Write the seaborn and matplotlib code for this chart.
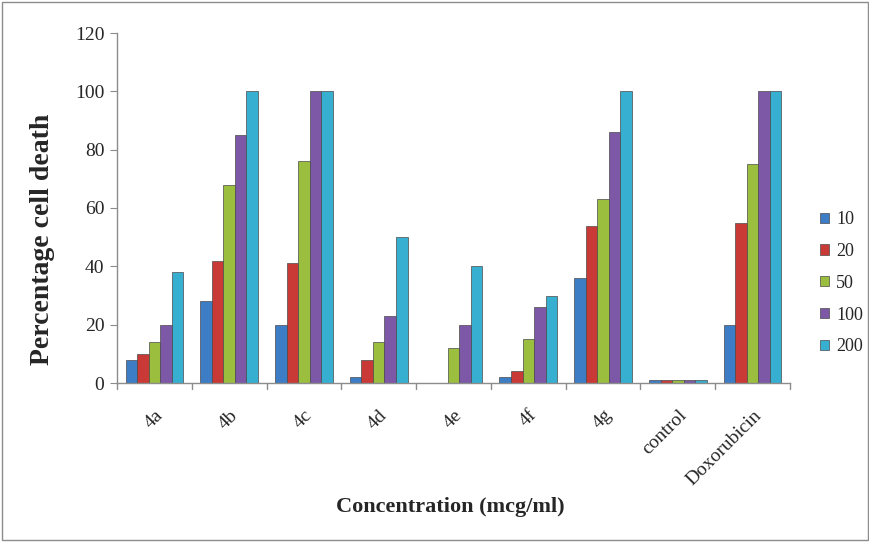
import matplotlib
matplotlib.use("Agg")
import matplotlib.pyplot as plt
import seaborn as sns
import pandas as pd
from matplotlib.patches import Rectangle

compounds = ["4a", "4b", "4c", "4d", "4e", "4f", "4g", "control", "Doxorubicin"]
conc_labels = ["10", "20", "50", "100", "200"]
v10 = [8, 28, 20, 2, 0, 2, 36, 1, 20]
v20 = [10, 42, 41, 8, 0, 4, 54, 1, 55]
v50 = [14, 68, 76, 14, 12, 15, 63, 1, 75]
v100 = [20, 85, 100, 23, 20, 26, 86, 1, 100]
v200 = [38, 100, 100, 50, 40, 30, 100, 1, 100]
yticks = [0, 20, 40, 60, 80, 100, 120]

series = [v10, v20, v50, v100, v200]
rows = []
for lab, vals in zip(conc_labels, series):
    for c, v in zip(compounds, vals):
        rows.append({"compound": c, "conc": lab, "value": v})
df = pd.DataFrame(rows)

colors = ["#3C7DC6", "#C93A37", "#9BBE3F", "#7D58A7", "#36AFD0"]

sns.set_style("white")
plt.rcParams["font.family"] = ["Liberation Serif", "DejaVu Serif"]

fig = plt.figure(figsize=(8.7, 5.42), dpi=100)
ax = fig.add_axes([117/870, 1-383/542, (790-117)/870, (383-33)/542])

sns.barplot(data=df, x="compound", y="value", hue="conc", order=compounds,
            hue_order=conc_labels, palette=colors, width=0.77, ax=ax,
            edgecolor="#4a4a4a", linewidth=0.5, saturation=1)

ax.set_ylim(0, 120)
ax.set_yticks(yticks)
ax.set_yticklabels([str(t) for t in yticks], fontsize=14)
ax.set_xlim(-0.5, len(compounds)-0.5)
ax.set_xticks(range(len(compounds)))
ax.set_xticklabels(compounds, rotation=45, ha="right", rotation_mode="anchor", fontsize=14)
ax.tick_params(axis="x", length=0, pad=17)
ax.tick_params(axis="y", length=5, color="#8c8c8c", left=True, pad=4)
# boundary ticks on x axis
for b in [i - 0.5 for i in range(len(compounds)+1)]:
    ax.plot([b, b], [0, -2.0], color="#8c8c8c", lw=1, clip_on=False)

for s in ["top", "right"]:
    ax.spines[s].set_visible(False)
for s in ["left", "bottom"]:
    ax.spines[s].set_color("#8c8c8c")
    ax.spines[s].set_linewidth(1)

ax.set_xlabel("Concentration (mcg/ml)", fontsize=16, fontweight="bold")
ax.xaxis.set_label_coords(0.495, -0.325)
ax.set_ylabel("Percentage cell death", fontsize=20, fontweight="bold")
ax.yaxis.set_label_coords(-0.092, 0.41)

handles, labels = ax.get_legend_handles_labels()
ax.legend(handles, labels, loc="center left", bbox_to_anchor=(1.02, 0.285),
          frameon=False, fontsize=13, handlelength=0.5, handleheight=0.5,
          labelspacing=0.82, handletextpad=0.4)

fig.patches.append(Rectangle((0.002, 0.003), 0.996, 0.994, transform=fig.transFigure,
                             fill=False, edgecolor="#8c8c8c", lw=1))

fig.savefig("out.png", dpi=100)
